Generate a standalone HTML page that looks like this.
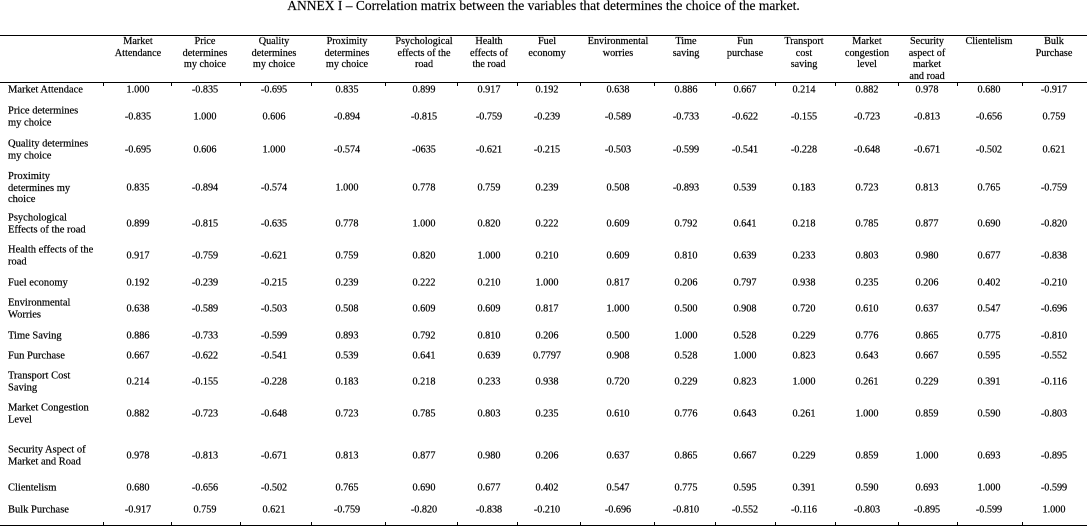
<!DOCTYPE html>
<html>
<head>
<meta charset="utf-8">
<style>
  html,body{margin:0;padding:0;background:#fff;}
  body{width:1087px;height:527px;position:relative;overflow:hidden;
       font-family:"Liberation Serif","DejaVu Serif",serif;color:#000;}
  .title{position:absolute;left:0;top:-1px;width:1087px;text-align:center;
         font-size:13.5px;line-height:13px;white-space:nowrap;-webkit-text-stroke:0.15px #000;}
  .hl{position:absolute;left:0;width:1087px;height:1px;background:#000;}
  .tk{position:absolute;width:1px;height:3px;background:#000;}
  .hd{position:absolute;top:36px;transform:translateX(-50%);text-align:center;
      font-size:10.2px;line-height:11.5px;white-space:nowrap;-webkit-text-stroke:0.2px #000;}
  .row{position:absolute;left:0;width:1087px;height:0;font-size:10.2px;-webkit-text-stroke:0.2px #000;}
  .row span{position:absolute;top:0;transform:translate(-50%,-50%);
            line-height:11.5px;white-space:nowrap;}
  .row .lab{position:absolute;left:8px;top:0;transform:translateY(-50%);
            line-height:11.5px;white-space:nowrap;font-size:10.5px;}
  .row span:nth-of-type(1){left:138px}
  .row span:nth-of-type(2){left:205px}
  .row span:nth-of-type(3){left:274px}
  .row span:nth-of-type(4){left:347px}
  .row span:nth-of-type(5){left:424px}
  .row span:nth-of-type(6){left:489px}
  .row span:nth-of-type(7){left:547px}
  .row span:nth-of-type(8){left:618px}
  .row span:nth-of-type(9){left:686px}
  .row span:nth-of-type(10){left:745px}
  .row span:nth-of-type(11){left:804px}
  .row span:nth-of-type(12){left:867px}
  .row span:nth-of-type(13){left:927px}
  .row span:nth-of-type(14){left:989px}
  .row span:nth-of-type(15){left:1054px}
</style>
</head>
<body>
<div class="title">ANNEX I – Correlation matrix between the variables that determines the choice of the market.</div>

<div class="hl" style="top:35px"></div>
<div class="hl" style="top:82px"></div>
<div class="hl" style="top:525px"></div>

<!-- ticks under header separator -->
<div class="tk" style="top:83px;left:103px"></div>
<div class="tk" style="top:83px;left:171px"></div>
<div class="tk" style="top:83px;left:240px"></div>
<div class="tk" style="top:83px;left:311px"></div>
<div class="tk" style="top:83px;left:385px"></div>
<div class="tk" style="top:83px;left:457px"></div>
<div class="tk" style="top:83px;left:517px"></div>
<div class="tk" style="top:83px;left:580px"></div>
<div class="tk" style="top:83px;left:654px"></div>
<div class="tk" style="top:83px;left:715px"></div>
<div class="tk" style="top:83px;left:775px"></div>
<div class="tk" style="top:83px;left:835px"></div>
<div class="tk" style="top:83px;left:898px"></div>
<div class="tk" style="top:83px;left:957px"></div>
<div class="tk" style="top:83px;left:1022px"></div>
<!-- ticks above bottom line -->
<div class="tk" style="top:522px;left:103px"></div>
<div class="tk" style="top:522px;left:171px"></div>
<div class="tk" style="top:522px;left:240px"></div>
<div class="tk" style="top:522px;left:311px"></div>
<div class="tk" style="top:522px;left:385px"></div>
<div class="tk" style="top:522px;left:457px"></div>
<div class="tk" style="top:522px;left:517px"></div>
<div class="tk" style="top:522px;left:580px"></div>
<div class="tk" style="top:522px;left:654px"></div>
<div class="tk" style="top:522px;left:715px"></div>
<div class="tk" style="top:522px;left:775px"></div>
<div class="tk" style="top:522px;left:835px"></div>
<div class="tk" style="top:522px;left:898px"></div>
<div class="tk" style="top:522px;left:957px"></div>
<div class="tk" style="top:522px;left:1022px"></div>

<!-- headers -->
<div class="hd" style="left:138px">Market<br>Attendance</div>
<div class="hd" style="left:205px">Price<br>determines<br>my choice</div>
<div class="hd" style="left:274px">Quality<br>determines<br>my choice</div>
<div class="hd" style="left:347px">Proximity<br>determines<br>my choice</div>
<div class="hd" style="left:424px">Psychological<br>effects of the<br>road</div>
<div class="hd" style="left:489px">Health<br>effects of<br>the road</div>
<div class="hd" style="left:547px">Fuel<br>economy</div>
<div class="hd" style="left:618px">Environmental<br>worries</div>
<div class="hd" style="left:686px">Time<br>saving</div>
<div class="hd" style="left:745px">Fun<br>purchase</div>
<div class="hd" style="left:804px">Transport<br>cost<br>saving</div>
<div class="hd" style="left:867px">Market<br>congestion<br>level</div>
<div class="hd" style="left:927px">Security<br>aspect of<br>market<br>and road</div>
<div class="hd" style="left:989px">Clientelism</div>
<div class="hd" style="left:1054px">Bulk<br>Purchase</div>

<!-- rows -->
<div class="row" style="top:90px"><div class="lab">Market Attendace</div>
<span>1.000</span><span>-0.835</span><span>-0.695</span><span>0.835</span><span>0.899</span><span>0.917</span><span>0.192</span><span>0.638</span><span>0.886</span><span>0.667</span><span>0.214</span><span>0.882</span><span>0.978</span><span>0.680</span><span>-0.917</span></div>

<div class="row" style="top:117px"><div class="lab">Price determines<br>my choice</div>
<span>-0.835</span><span>1.000</span><span>0.606</span><span>-0.894</span><span>-0.815</span><span>-0.759</span><span>-0.239</span><span>-0.589</span><span>-0.733</span><span>-0.622</span><span>-0.155</span><span>-0.723</span><span>-0.813</span><span>-0.656</span><span>0.759</span></div>

<div class="row" style="top:150px"><div class="lab">Quality determines<br>my choice</div>
<span>-0.695</span><span>0.606</span><span>1.000</span><span>-0.574</span><span>-0635</span><span>-0.621</span><span>-0.215</span><span>-0.503</span><span>-0.599</span><span>-0.541</span><span>-0.228</span><span>-0.648</span><span>-0.671</span><span>-0.502</span><span>0.621</span></div>

<div class="row" style="top:188px"><div class="lab">Proximity<br>determines my<br>choice</div>
<span>0.835</span><span>-0.894</span><span>-0.574</span><span>1.000</span><span>0.778</span><span>0.759</span><span>0.239</span><span>0.508</span><span>-0.893</span><span>0.539</span><span>0.183</span><span>0.723</span><span>0.813</span><span>0.765</span><span>-0.759</span></div>

<div class="row" style="top:224px"><div class="lab">Psychological<br>Effects of the road</div>
<span>0.899</span><span>-0.815</span><span>-0.635</span><span>0.778</span><span>1.000</span><span>0.820</span><span>0.222</span><span>0.609</span><span>0.792</span><span>0.641</span><span>0.218</span><span>0.785</span><span>0.877</span><span>0.690</span><span>-0.820</span></div>

<div class="row" style="top:256px"><div class="lab">Health effects of the<br>road</div>
<span>0.917</span><span>-0.759</span><span>-0.621</span><span>0.759</span><span>0.820</span><span>1.000</span><span>0.210</span><span>0.609</span><span>0.810</span><span>0.639</span><span>0.233</span><span>0.803</span><span>0.980</span><span>0.677</span><span>-0.838</span></div>

<div class="row" style="top:283px"><div class="lab">Fuel economy</div>
<span>0.192</span><span>-0.239</span><span>-0.215</span><span>0.239</span><span>0.222</span><span>0.210</span><span>1.000</span><span>0.817</span><span>0.206</span><span>0.797</span><span>0.938</span><span>0.235</span><span>0.206</span><span>0.402</span><span>-0.210</span></div>

<div class="row" style="top:309px"><div class="lab">Environmental<br>Worries</div>
<span>0.638</span><span>-0.589</span><span>-0.503</span><span>0.508</span><span>0.609</span><span>0.609</span><span>0.817</span><span>1.000</span><span>0.500</span><span>0.908</span><span>0.720</span><span>0.610</span><span>0.637</span><span>0.547</span><span>-0.696</span></div>

<div class="row" style="top:336px"><div class="lab">Time Saving</div>
<span>0.886</span><span>-0.733</span><span>-0.599</span><span>0.893</span><span>0.792</span><span>0.810</span><span>0.206</span><span>0.500</span><span>1.000</span><span>0.528</span><span>0.229</span><span>0.776</span><span>0.865</span><span>0.775</span><span>-0.810</span></div>

<div class="row" style="top:356px"><div class="lab">Fun Purchase</div>
<span>0.667</span><span>-0.622</span><span>-0.541</span><span>0.539</span><span>0.641</span><span>0.639</span><span>0.7797</span><span>0.908</span><span>0.528</span><span>1.000</span><span>0.823</span><span>0.643</span><span>0.667</span><span>0.595</span><span>-0.552</span></div>

<div class="row" style="top:382px"><div class="lab">Transport Cost<br>Saving</div>
<span>0.214</span><span>-0.155</span><span>-0.228</span><span>0.183</span><span>0.218</span><span>0.233</span><span>0.938</span><span>0.720</span><span>0.229</span><span>0.823</span><span>1.000</span><span>0.261</span><span>0.229</span><span>0.391</span><span>-0.116</span></div>

<div class="row" style="top:414px"><div class="lab">Market Congestion<br>Level</div>
<span>0.882</span><span>-0.723</span><span>-0.648</span><span>0.723</span><span>0.785</span><span>0.803</span><span>0.235</span><span>0.610</span><span>0.776</span><span>0.643</span><span>0.261</span><span>1.000</span><span>0.859</span><span>0.590</span><span>-0.803</span></div>

<div class="row" style="top:456px"><div class="lab">Security Aspect of<br>Market and Road</div>
<span>0.978</span><span>-0.813</span><span>-0.671</span><span>0.813</span><span>0.877</span><span>0.980</span><span>0.206</span><span>0.637</span><span>0.865</span><span>0.667</span><span>0.229</span><span>0.859</span><span>1.000</span><span>0.693</span><span>-0.895</span></div>

<div class="row" style="top:488px"><div class="lab">Clientelism</div>
<span>0.680</span><span>-0.656</span><span>-0.502</span><span>0.765</span><span>0.690</span><span>0.677</span><span>0.402</span><span>0.547</span><span>0.775</span><span>0.595</span><span>0.391</span><span>0.590</span><span>0.693</span><span>1.000</span><span>-0.599</span></div>

<div class="row" style="top:510px"><div class="lab">Bulk Purchase</div>
<span>-0.917</span><span>0.759</span><span>0.621</span><span>-0.759</span><span>-0.820</span><span>-0.838</span><span>-0.210</span><span>-0.696</span><span>-0.810</span><span>-0.552</span><span>-0.116</span><span>-0.803</span><span>-0.895</span><span>-0.599</span><span>1.000</span></div>

</body>
</html>
